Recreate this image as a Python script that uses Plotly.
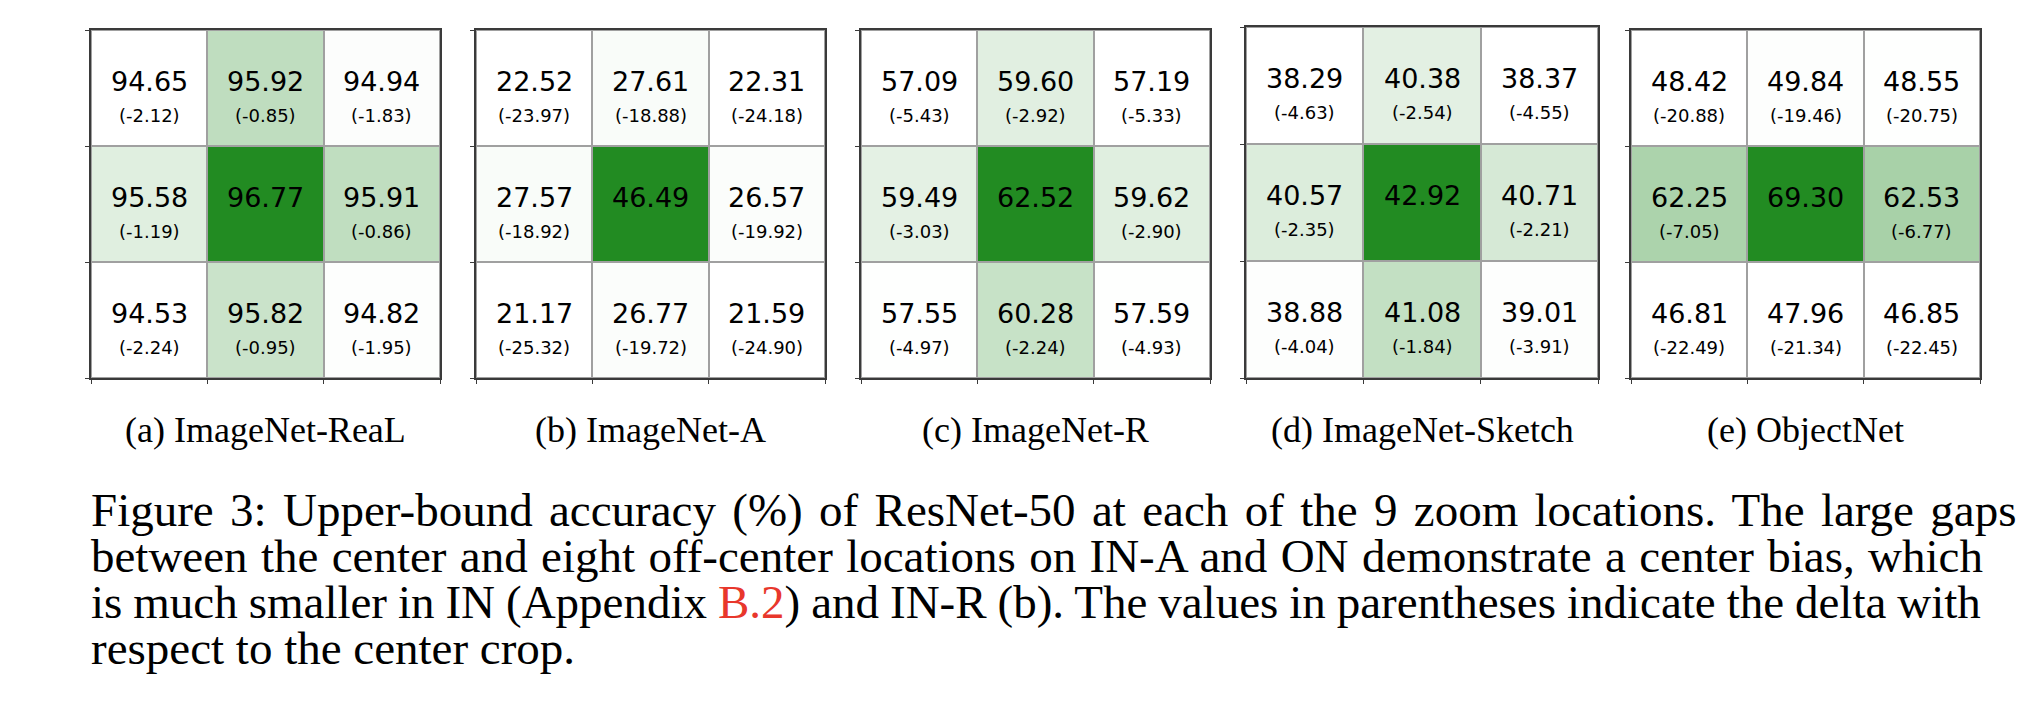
import plotly.graph_objects as go

# --- dados: acurácia (%) em cada uma das 9 posições de zoom (linha a linha) ---
PANEL_LABELS = ['(a) ImageNet-ReaL', '(b) ImageNet-A', '(c) ImageNet-R',
                '(d) ImageNet-Sketch', '(e) ObjectNet']

IMAGENET_REAL = [[94.65, 95.92, 94.94],
                 [95.58, 96.77, 95.91],
                 [94.53, 95.82, 94.82]]
IMAGENET_A = [[22.52, 27.61, 22.31],
              [27.57, 46.49, 26.57],
              [21.17, 26.77, 21.59]]
IMAGENET_R = [[57.09, 59.60, 57.19],
              [59.49, 62.52, 59.62],
              [57.55, 60.28, 57.59]]
IMAGENET_SKETCH = [[38.29, 40.38, 38.37],
                   [40.57, 42.92, 40.71],
                   [38.88, 41.08, 39.01]]
OBJECTNET = [[48.42, 49.84, 48.55],
             [62.25, 69.30, 62.53],
             [46.81, 47.96, 46.85]]

PANELS = [IMAGENET_REAL, IMAGENET_A, IMAGENET_R, IMAGENET_SKETCH, OBJECTNET]

# legenda justificada: cada linha leva um word-spacing próprio
CAPTION_LINES = [
    "<span style='word-spacing:4.6px'>Figure 3: Upper-bound accuracy (%) of ResNet-50 at each of the 9 zoom locations. The large gaps</span>",
    "<span style='word-spacing:1.6px'>between the center and eight off-center locations on IN-A and ON demonstrate a center bias, which</span>",
    "<span style='word-spacing:-0.8px'>is much smaller in IN (Appendix </span><span style='color:#e8372c'>B.2</span>"
    "<span style='word-spacing:-0.8px'>) and IN-R (b). The values in parentheses indicate the delta with</span>",
    "respect to the center crop.",
]

W, H = 2040, 704
# posição de cada painel em pixels: (esquerda, direita, topo, base)
BOXES = [(83, 432, 22, 370), (468, 817, 22, 370), (853, 1202, 22, 370),
         (1238, 1590, 19, 370), (1623, 1972, 22, 370)]

GREEN = (34, 139, 34)  # forestgreen


def make_colorscale(gamma=2.6, steps=20):
    # branco -> verde, com realce não linear (o original só escurece perto do máximo)
    scale = []
    for i in range(steps + 1):
        s = i / steps
        t = s ** gamma
        r, g, b = [round(255 - (255 - c) * t) for c in GREEN]
        scale.append([s, f'rgb({r},{g},{b})'])
    return scale


COLORSCALE = make_colorscale()

fig = go.Figure()
annotations = []

for k, (grid, label, box) in enumerate(zip(PANELS, PANEL_LABELS, BOXES)):
    left, right, top, bottom = box
    ax = '' if k == 0 else str(k + 1)
    flat = [v for row in grid for v in row]
    center = grid[1][1]

    # xgap/ygap deixam o fundo cinza aparecer como linhas de grade
    fig.add_trace(go.Heatmap(
        z=grid, x=[0, 1, 2], y=[0, 1, 2],
        colorscale=COLORSCALE, zmin=min(flat), zmax=max(flat),
        xgap=2, ygap=2,
        showscale=False, hoverinfo='skip',
        xaxis='x' + ax, yaxis='y' + ax,
    ))

    axis_common = dict(
        range=[-0.5, 2.5], tickvals=[-0.5, 0.5, 1.5, 2.5], showticklabels=False,
        showgrid=False, zeroline=False,
        showline=True, linecolor='#3a3a3a', linewidth=1.5, mirror=True,
        ticks='outside', ticklen=4, tickcolor='#3a3a3a', tickwidth=1,
        layer='above traces', fixedrange=True,
    )
    fig.layout['xaxis' + ax] = dict(
        axis_common, domain=[left / W, right / W], anchor='y' + ax)
    fig.layout['yaxis' + ax] = dict(
        axis_common, domain=[1 - bottom / H, 1 - top / H], anchor='x' + ax,
        autorange=False, range=[2.5, -0.5])

    # valores e deltas em relação ao centro
    for i in range(3):
        for j in range(3):
            v = grid[i][j]
            annotations.append(dict(
                x=j, y=i, xref='x' + ax, yref='y' + ax, text=f'{v:.2f}',
                showarrow=False, font=dict(family='DejaVu Sans', size=27, color='black'),
                yshift=7))
            if (i, j) != (1, 1):
                annotations.append(dict(
                    x=j, y=i, xref='x' + ax, yref='y' + ax, text=f'({v - center:.2f})',
                    showarrow=False, font=dict(family='DejaVu Sans', size=18, color='black'),
                    yshift=-27))

    # subtítulo do painel
    annotations.append(dict(
        x=(left + right) / 2 / W, y=1 - 422 / H, xref='paper', yref='paper',
        text=label, showarrow=False, xanchor='center', yanchor='middle',
        font=dict(family='Liberation Serif', size=36, color='black')))

# legenda da figura, linha a linha
for n, line in enumerate(CAPTION_LINES):
    annotations.append(dict(
        x=81 / W, y=1 - (502 + 46 * n) / H, xref='paper', yref='paper',
        text=line, showarrow=False, xanchor='left', yanchor='middle',
        font=dict(family='Liberation Serif', size=47, color='black')))

fig.update_layout(
    width=W, height=H,
    margin=dict(t=0, l=0, r=0, b=0),
    plot_bgcolor='#a0a0a0',
    paper_bgcolor='white',
    showlegend=False,
    annotations=annotations,
)

fig.write_html("out.html")
